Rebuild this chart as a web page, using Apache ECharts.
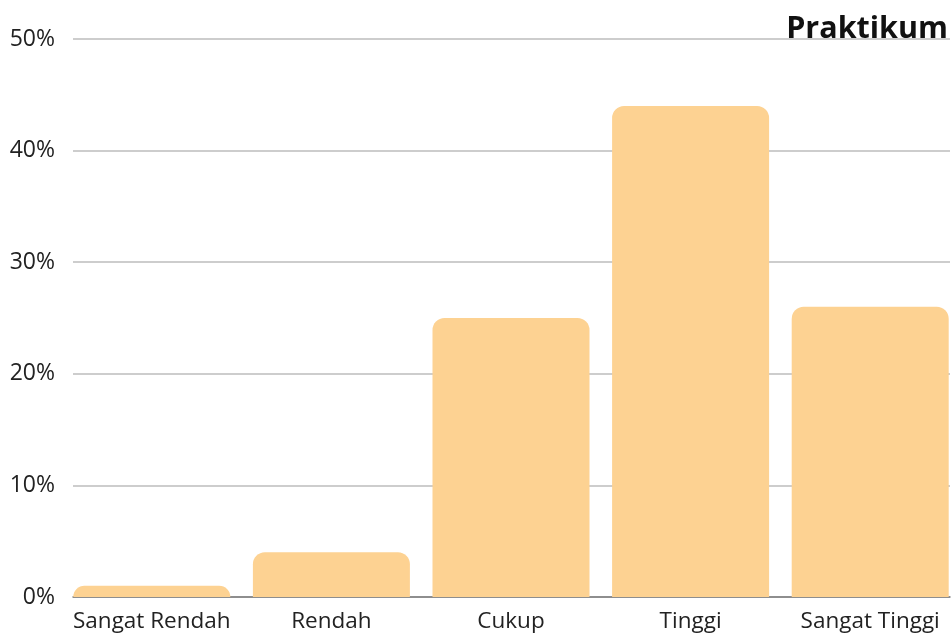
<!DOCTYPE html>
<html>
<head>
<meta charset="utf-8">
<script src="https://cdn.jsdelivr.net/npm/echarts@6/dist/echarts.min.js"></script>
<style>
  html, body { margin: 0; padding: 0; background: #fff; overflow: hidden; }
  #main { width: 970px; height: 635px; }
</style>
</head>
<body>
<div id="main"></div>
<script>
var categories = ['Sangat Rendah', 'Rendah', 'Cukup', 'Tinggi', 'Sangat Tinggi'];
var values = [1, 4, 25, 44, 26];
var yTicks = [0, 10, 20, 30, 40, 50];

var myChart = echarts.init(document.getElementById('main'));
var fontName = '"Open Sans", sans-serif';

var option = {
    animation: false,
    title: {
        text: 'Praktikum',
        right: 17,
        top: 9,
        textStyle: { fontFamily: fontName, fontWeight: 'bold', fontSize: 30.5, color: '#111' }
    },
    grid: [
        // gridlines + base line
        { left: 73, width: 877, top: 39, bottom: 38 },
        // bars, a little wider than the gridlines
        { left: 62, width: 898, top: 39, bottom: 38 }
    ],
    xAxis: [
        {
            type: 'category', gridIndex: 0, data: categories,
            axisLine: { lineStyle: { color: '#7a7a7a', width: 1.5 } },
            axisTick: { show: false },
            axisLabel: { show: false }
        },
        {
            type: 'category', gridIndex: 1, data: categories,
            axisLine: { show: false },
            axisTick: { show: false },
            axisLabel: { interval: 0, fontFamily: fontName, fontSize: 22.5, color: '#222', margin: 13 }
        }
    ],
    yAxis: [
        {
            type: 'value', gridIndex: 0, min: yTicks[0], max: yTicks[yTicks.length - 1], interval: 10,
            axisLine: { show: false },
            axisTick: { show: false },
            axisLabel: { formatter: '{value}%', fontFamily: fontName, fontSize: 23, color: '#222', margin: 18 },
            splitLine: { lineStyle: { color: '#bdbdbd', width: 1.5 } }
        },
        {
            type: 'value', gridIndex: 1, min: 0, max: 50,
            show: false
        }
    ],
    series: [
        {
            type: 'bar',
            xAxisIndex: 1,
            yAxisIndex: 1,
            data: values,
            barWidth: 157,
            itemStyle: { color: '#fdd292', borderRadius: [12, 12, 0, 0] }
        }
    ]
};
myChart.setOption(option);
</script>
</body>
</html>
